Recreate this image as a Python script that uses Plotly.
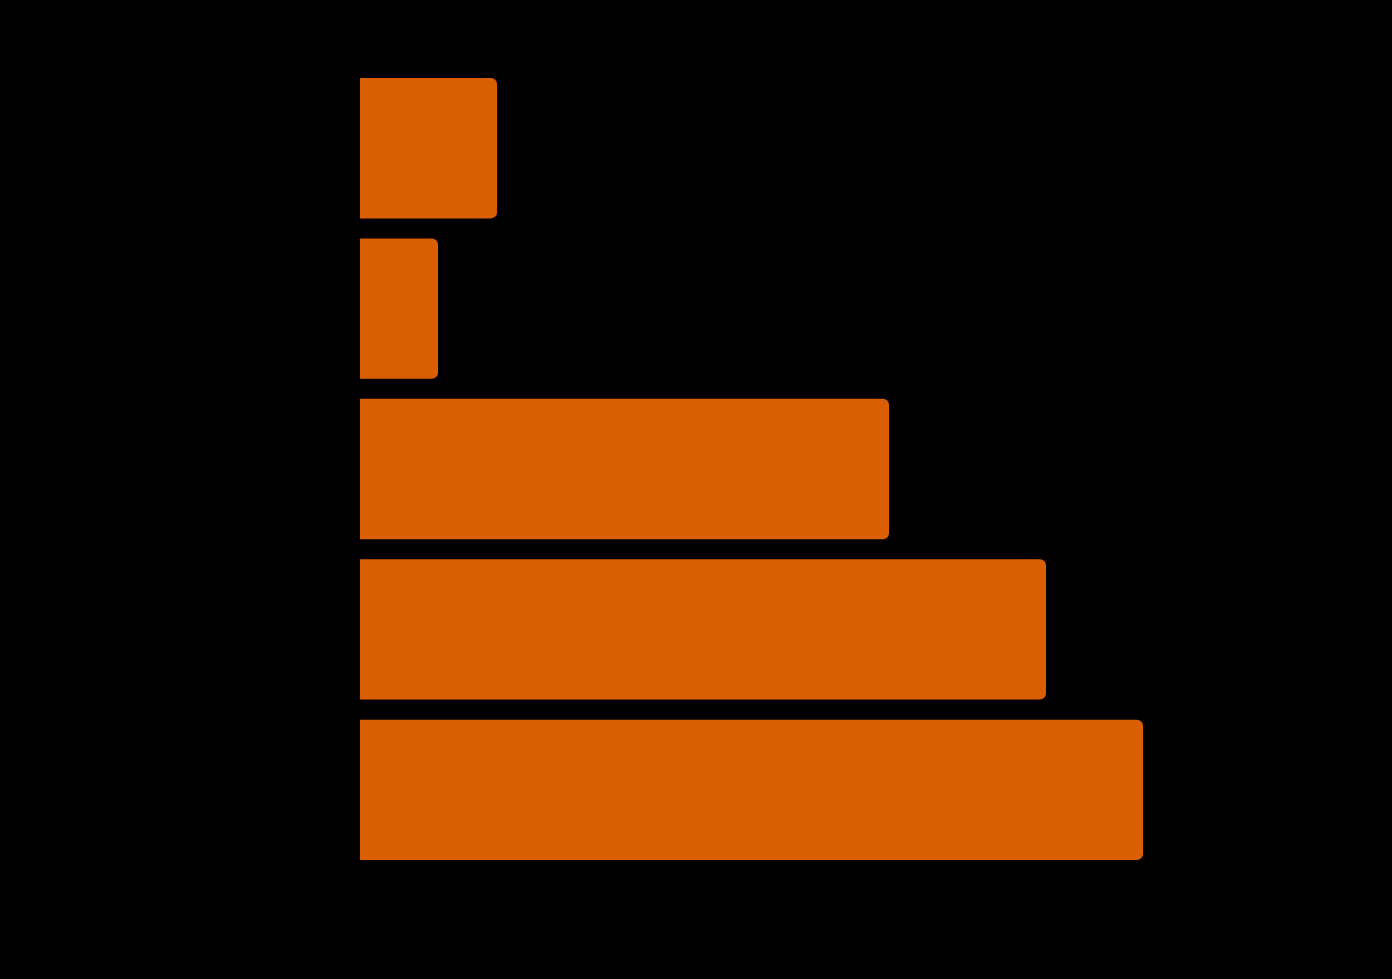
import plotly.graph_objects as go

# categories bottom-to-top as plotly draws them; labels are black on black in the reference
categories = ["E", "D", "C", "B", "A"]
values = [7.83, 6.86, 5.29, 0.78, 1.37]

fig = go.Figure(go.Bar(
    x=values,
    y=categories,
    orientation="h",
    marker=dict(color="#D95F02", line=dict(width=0)),
))

fig.update_layout(
    width=1392,
    height=979,
    margin=dict(l=360, r=207, t=68, b=109),
    paper_bgcolor="black",
    plot_bgcolor="black",
    bargap=0.125,
    barcornerradius=6,
    showlegend=False,
    font=dict(color="black", family="Open Sans"),
    xaxis=dict(range=[0, 8.25], showgrid=False, zeroline=False, showticklabels=False),
    yaxis=dict(showgrid=False, zeroline=False, showticklabels=False),
)

# drop the default page margin so the figure sits flush in the window
fig.write_html(
    "out.html",
    config={"displayModeBar": False},
    post_script="document.body.style.margin='0';document.body.style.background='black';",
)
